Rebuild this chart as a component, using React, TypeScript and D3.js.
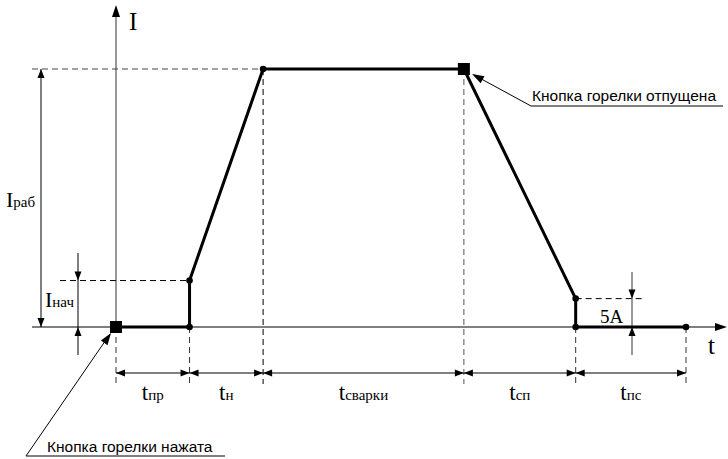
import React from "react";
import * as d3 from "d3";

// Time breakpoints (arbitrary units): start, jump, reach, release, drop, end
const timePoints = [0, 1, 2, 4.73, 6.25, 7.75];
const timeLabels = [
  { main: "t", sub: "пр" },
  { main: "t", sub: "н" },
  { main: "t", sub: "сварки" },
  { main: "t", sub: "сп" },
  { main: "t", sub: "пс" },
];
// Current levels (% of I раб)
const I_RAB = 100;
const I_NACH = 18;
const I_END = 11;
// Welding current profile
const profileT = [0, 1, 1, 2, 4.73, 6.25, 6.25, 7.75];
const profileI = [0, 0, I_NACH, I_RAB, I_RAB, I_END, 0, 0];
const dotT = [1, 1, 2, 6.25, 6.25, 7.75];
const dotI = [I_NACH, 0, I_RAB, I_END, 0, 0];
const squareT = [0, 4.73];
const squareI = [0, I_RAB];

export default function App() {
  const W = 728, H = 459;
  const x = d3.scaleLinear().domain([0, 7.75]).range([116, 686]);
  const y = d3.scaleLinear().domain([0, 100]).range([327, 69]);
  const line = d3.line<number>().x((_, i) => x(profileT[i])).y((_, i) => y(profileI[i]));
  const serif = { fontFamily: "Liberation Serif, Times New Roman, serif" };
  const sans = { fontFamily: "Liberation Sans, Arial, sans-serif" };
  const dimY = 373;
  const y0 = y(0);
  const dash = "6,4";

  // arrowhead polygon: tip at (tx,ty), pointing in direction (dx,dy)
  const arrow = (tx: number, ty: number, dx: number, dy: number, len = 9, half = 3.5) => {
    const n = Math.hypot(dx, dy);
    const ux = dx / n, uy = dy / n;
    const bx = tx - ux * len, by = ty - uy * len;
    const px = -uy * half, py = ux * half;
    return <polygon points={`${tx},${ty} ${bx + px},${by + py} ${bx - px},${by - py}`} fill="#000" />;
  };

  return (
    <svg width={W} height={H} style={{ position: "absolute", left: 0, top: 0, background: "#fff" }}>
      {/* Y axis */}
      <line x1={x(0)} y1={y0} x2={x(0)} y2={12} stroke="#555" strokeWidth={1.2} />
      {arrow(x(0), 5, 0, -1, 12, 4)}
      <text x={129} y={30} style={serif} fontSize={25}>I</text>

      {/* t axis */}
      <line x1={32} y1={y0} x2={718} y2={y0} stroke="#000" strokeWidth={1.2} />
      {arrow(727, y0, 1, 0, 12, 4)}
      <text x={708} y={354} style={serif} fontSize={25}>t</text>

      {/* Top dashed level line */}
      <line x1={32} y1={y(I_RAB)} x2={x(2)} y2={y(I_RAB)} stroke="#444" strokeWidth={1} strokeDasharray={dash} />

      {/* Iраб dimension */}
      <line x1={41} y1={y(I_RAB)} x2={41} y2={y0} stroke="#000" strokeWidth={1} />
      {arrow(41, y(I_RAB), 0, -1, 9, 3.5)}
      {arrow(41, y0, 0, 1, 9, 3.5)}
      <text x={6} y={207} style={serif} fontSize={22}>I<tspan fontSize={15}>раб</tspan></text>

      {/* Iнач dimension */}
      <line x1={60} y1={y(I_NACH)} x2={x(1)} y2={y(I_NACH)} stroke="#000" strokeWidth={1} strokeDasharray={dash} />
      <line x1={78} y1={253} x2={78} y2={355} stroke="#000" strokeWidth={1} />
      {arrow(78, y(I_NACH), 0, 1, 9, 3.5)}
      {arrow(78, y0, 0, -1, 9, 3.5)}
      <text x={45} y={307} style={serif} fontSize={22}>I<tspan fontSize={15}>нач</tspan></text>

      {/* 5A dimension */}
      <line x1={x(6.25)} y1={y(I_END)} x2={642} y2={y(I_END)} stroke="#000" strokeWidth={1} strokeDasharray={dash} />
      <line x1={632} y1={272} x2={632} y2={355} stroke="#333" strokeWidth={1} />
      {arrow(632, y(I_END), 0, 1, 9, 3.5)}
      {arrow(632, y0, 0, -1, 9, 3.5)}
      <text x={600} y={323} style={serif} fontSize={19}>5A</text>

      {/* Vertical dashed extension lines */}
      <line x1={x(2)} y1={y(I_RAB)} x2={x(2)} y2={384} stroke="#000" strokeWidth={1} strokeDasharray={dash} />
      <line x1={x(4.73)} y1={y(I_RAB)} x2={x(4.73)} y2={384} stroke="#555" strokeWidth={1} strokeDasharray={dash} />
      {[0, 1, 6.25, 7.75].map((t) => (
        <line key={t} x1={x(t)} y1={y0} x2={x(t)} y2={384} stroke="#333" strokeWidth={1} strokeDasharray={dash} />
      ))}

      {/* Time dimension line */}
      <line x1={x(0)} y1={dimY} x2={x(7.75)} y2={dimY} stroke="#000" strokeWidth={1} />
      {timePoints.slice(0, -1).map((t, i) => {
        const a = x(t), b = x(timePoints[i + 1]);
        return (
          <g key={i}>
            {arrow(a, dimY, -1, 0, 9, 3.5)}
            {arrow(b, dimY, 1, 0, 9, 3.5)}
            <text x={(a + b) / 2} y={400} style={serif} fontSize={23} textAnchor="middle">
              {timeLabels[i].main}
              <tspan fontSize={15}>{timeLabels[i].sub}</tspan>
            </text>
          </g>
        );
      })}

      {/* Profile */}
      <path d={line(profileT) || ""} fill="none" stroke="#000" strokeWidth={3} strokeLinejoin="round" />
      {dotT.map((t, i) => (
        <circle key={i} cx={x(t)} cy={y(dotI[i])} r={3.3} fill="#000" />
      ))}
      {squareT.map((t, i) => (
        <rect key={i} x={x(t) - 6} y={y(squareI[i]) - 6} width={12} height={12} fill="#000" />
      ))}

      {/* Callout: pressed */}
      <polyline points={`225,456 26,456 110,334`} fill="none" stroke="#000" strokeWidth={1} />
      {arrow(111, 333, 84, -122, 12, 4)}
      <text x={47} y={452} style={sans} fontSize={15.5}>Кнопка горелки нажата</text>

      {/* Callout: released */}
      <polyline points={`723,106 531,106 474,75`} fill="none" stroke="#000" strokeWidth={1} />
      {arrow(472, 74, -59, -32, 12, 4)}
      <text x={532} y={101} style={sans} fontSize={15.5}>Кнопка горелки отпущена</text>
    </svg>
  );
}
